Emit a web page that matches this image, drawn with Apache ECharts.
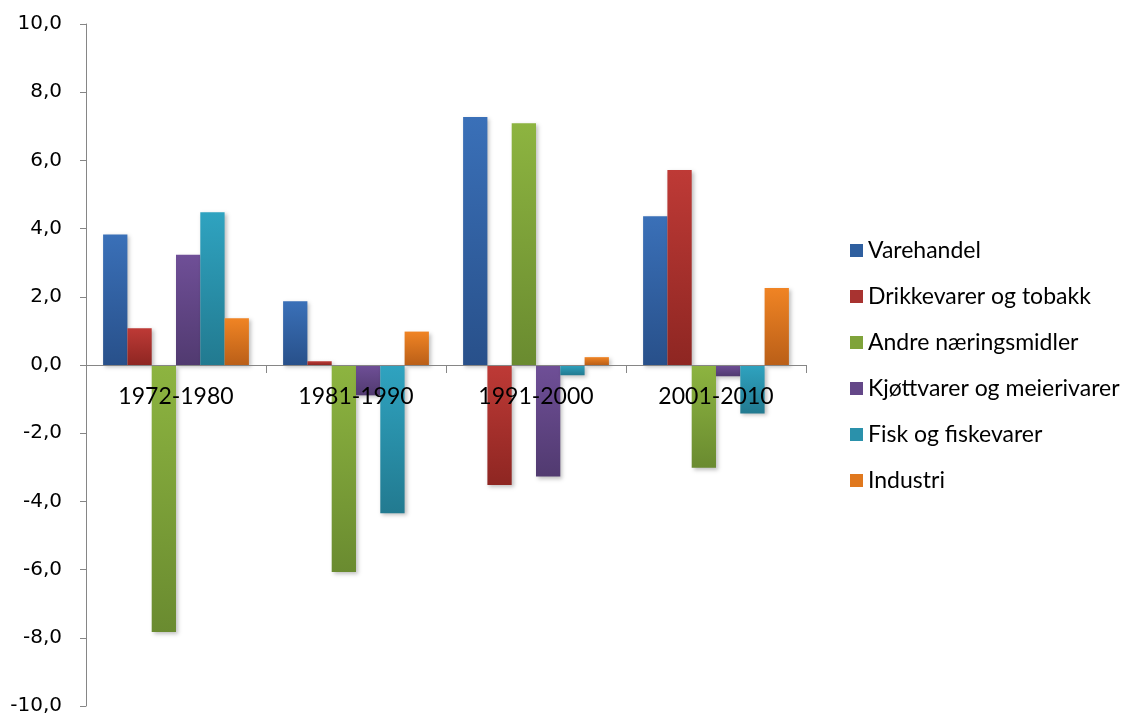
<!DOCTYPE html>
<html>
<head>
<meta charset="utf-8">
<script src="https://cdn.jsdelivr.net/npm/echarts@6/dist/echarts.min.js"></script>
<style>
  html, body { margin: 0; padding: 0; background: #fff; }
  #showChart { width: 1130px; height: 715px; }
</style>
</head>
<body>
<div id="showChart"></div>
<script>
// perioder
var periods = ['1972-1980', '1981-1990', '1991-2000', '2001-2010'];

// serier
var varehandel = [3.83, 1.87, 7.27, 4.36];
var drikkevarer = [1.08, 0.11, -3.52, 5.72];
var andreNaering = [-7.83, -6.07, 7.09, -3.01];
var kjottMeieri = [3.23, -0.89, -3.27, -0.33];
var fisk = [4.48, -4.35, -0.30, -1.42];
var industri = [1.37, 0.98, 0.23, 2.26];

var yTicks = { min: -10, max: 10, step: 2 };

var names = ['Varehandel', 'Drikkevarer og tobakk', 'Andre næringsmidler',
    'Kjøttvarer og meierivarer', 'Fisk og fiskevarer', 'Industri'];
var values = [varehandel, drikkevarer, andreNaering, kjottMeieri, fisk, industri];

// lys topp, mørk bunn (Excel-stil)
var colors = [
    ['#3a70b8', '#28508a', '#2f5f9f'],
    ['#be3a36', '#8e2622', '#a83330'],
    ['#8db440', '#6a8b30', '#7fa33a'],
    ['#6f4f97', '#513a70', '#644788'],
    ['#2fa3c0', '#227a90', '#2a91ab'],
    ['#f08424', '#ba5f18', '#e0781e']
];

var gridTop = 24, gridBottom = 9, chartH = 715;
var plotH = chartH - gridTop - gridBottom;
// flytt x-aksen opp til null-linja
var zeroOffset = -plotH * (0 - yTicks.min) / (yTicks.max - yTicks.min);

var series = names.map(function (n, i) {
    return {
        name: n,
        type: 'bar',
        barGap: '0%',
        barCategoryGap: '19%',
        color: colors[i][2],
        itemStyle: {
            color: new echarts.graphic.LinearGradient(0, 0, 0, 1, [
                { offset: 0, color: colors[i][0] },
                { offset: 1, color: colors[i][1] }
            ]),
            shadowBlur: 4,
            shadowOffsetX: 2,
            shadowOffsetY: 2,
            shadowColor: 'rgba(0,0,0,0.25)'
        },
        data: values[i]
    };
});

var option = {
    animation: false,
    backgroundColor: '#fff',
    grid: { left: 86, top: gridTop, right: 324, bottom: gridBottom, containLabel: false, outerBoundsMode: 'none' },
    legend: {
        orient: 'vertical',
        left: 845,
        top: 234,
        itemWidth: 13,
        itemHeight: 13,
        itemGap: 23,
        icon: 'rect',
        textStyle: { fontFamily: 'Lato', fontSize: 23, color: '#000' },
        data: names.map(function (n, i) {
            return { name: n, itemStyle: { color: colors[i][2] } };
        })
    },
    xAxis: {
        type: 'category',
        data: periods,
        z: 10,
        offset: zeroOffset,
        axisLine: { onZero: false, lineStyle: { color: '#868686', width: 1 } },
        axisTick: { show: true, length: 8, lineStyle: { color: '#868686' } },
        axisLabel: { margin: 20, fontFamily: 'Lato', fontSize: 23, color: '#000' }
    },
    yAxis: {
        type: 'value',
        min: yTicks.min,
        max: yTicks.max,
        interval: yTicks.step,
        splitLine: { show: false },
        axisLine: { show: true, lineStyle: { color: '#868686', width: 1 } },
        axisTick: { show: true, length: 6, lineStyle: { color: '#868686' } },
        axisLabel: {
            margin: 24,
            fontFamily: 'DejaVu Sans',
            fontSize: 20,
            color: '#000',
            formatter: function (v) { return v.toFixed(1).replace('.', ','); }
        }
    },
    series: series
};

var chart = echarts.init(document.getElementById('showChart'));
chart.setOption(option);
</script>
</body>
</html>
